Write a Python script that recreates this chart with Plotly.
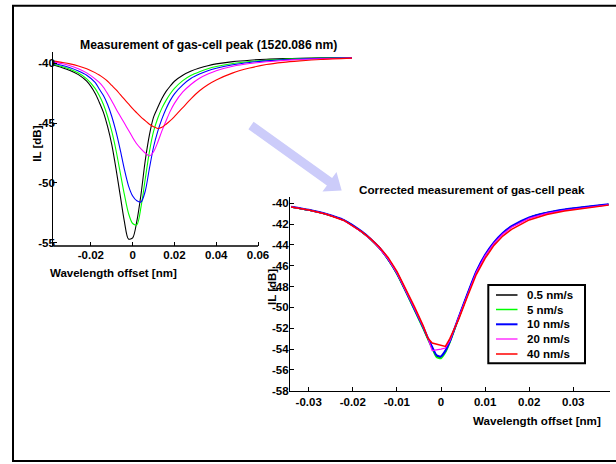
import plotly.graph_objects as go

FONT = "Liberation Sans, Arial, sans-serif"

SERIES = ["0.5 nm/s", "5 nm/s", "10 nm/s", "20 nm/s", "40 nm/s"]
COLORS = ["#000000", "#00ff00", "#0000ff", "#ff00ff", "#ff0000"]

# ---- raw measurement (upper-left panel) ----
X_RAW = [-0.038, -0.034, -0.030, -0.026, -0.022, -0.018, -0.016, -0.014, -0.012, -0.010,
         -0.008, -0.006, -0.004, -0.002, 0.000, 0.002, 0.004, 0.006, 0.008, 0.010,
         0.012, 0.014, 0.016, 0.018, 0.020, 0.024, 0.028, 0.032, 0.036, 0.040,
         0.048, 0.056, 0.064, 0.072, 0.080, 0.090, 0.105]
RAW_05 = [-40.14, -40.35, -40.6, -40.95, -41.5, -42.5, -43.25, -44.1, -45.3, -46.8,
          -48.8, -51.0, -53.2, -54.7, -54.6, -53.2, -50.95, -48.15, -46.0, -44.5,
          -43.7, -42.95, -42.35, -41.9, -41.5, -41.0, -40.65, -40.4, -40.2, -40.05,
          -39.86, -39.74, -39.66, -39.61, -39.58, -39.55, -39.53]
RAW_5 = [-40.08, -40.27, -40.5, -40.82, -41.3, -42.1, -42.7, -43.45, -44.45, -45.7,
         -47.25, -49.1, -50.95, -52.55, -53.4, -53.5, -52.0, -49.7, -47.4, -45.7,
         -44.6, -43.75, -43.1, -42.55, -42.1, -41.45, -41.0, -40.7, -40.45, -40.27,
         -40.02, -39.85, -39.74, -39.66, -39.61, -39.57, -39.54]
RAW_10 = [-40.0, -40.17, -40.38, -40.65, -41.0, -41.6, -42.15, -42.7, -43.45, -44.45,
          -45.7, -47.2, -48.85, -50.25, -51.1, -51.5, -51.6, -50.7, -48.8, -47.0,
          -45.7, -44.65, -43.8, -43.1, -42.55, -41.8, -41.25, -40.9, -40.62, -40.42,
          -40.12, -39.93, -39.8, -39.7, -39.64, -39.59, -39.55]
RAW_20 = [-39.9, -40.02, -40.2, -40.45, -40.8, -41.3, -41.6, -42.0, -42.55, -43.15,
          -43.8, -44.4, -45.0, -45.6, -46.2, -46.75, -47.15, -47.5, -47.75, -47.4,
          -46.6, -45.65, -44.8, -44.0, -43.35, -42.4, -41.75, -41.25, -40.9, -40.62,
          -40.25, -40.02, -39.87, -39.76, -39.68, -39.62, -39.57]
RAW_40 = [-39.8, -39.92, -40.05, -40.22, -40.45, -40.78, -40.98, -41.22, -41.5, -41.85,
          -42.2, -42.6, -43.0, -43.4, -43.8, -44.15, -44.5, -44.8, -45.1, -45.3,
          -45.45, -45.35, -45.1, -44.8, -44.45, -43.7, -42.95, -42.3, -41.8, -41.4,
          -40.8, -40.4, -40.1, -39.92, -39.8, -39.68, -39.57]

# ---- corrected measurement (lower-right panel) ----
X_COR = [-0.034, -0.030, -0.026, -0.022, -0.018, -0.016, -0.014, -0.012, -0.010, -0.008,
         -0.006, -0.004, -0.003, -0.002, -0.001, 0.000, 0.001, 0.002, 0.004, 0.006,
         0.008, 0.010, 0.012, 0.014, 0.016, 0.020, 0.024, 0.028, 0.032, 0.038]
COR_05 = [-40.35, -40.65, -41.05, -41.65, -42.75, -43.45, -44.3, -45.4, -46.75, -48.45,
          -50.2, -52.0, -52.95, -53.85, -54.7, -54.75, -54.2, -53.3, -51.0, -48.75,
          -46.6, -45.0, -43.8, -42.9, -42.25, -41.4, -40.92, -40.62, -40.4, -40.12]
COR_5 = [-40.35, -40.65, -41.05, -41.65, -42.75, -43.45, -44.3, -45.4, -46.8, -48.5,
         -50.3, -52.1, -53.05, -53.95, -54.8, -54.9, -54.35, -53.4, -51.05, -48.8,
         -46.65, -45.05, -43.85, -42.9, -42.25, -41.4, -40.92, -40.62, -40.4, -40.12]
COR_10 = [-40.33, -40.63, -41.03, -41.62, -42.7, -43.4, -44.25, -45.35, -46.7, -48.4,
          -50.15, -51.95, -52.9, -53.8, -54.6, -54.7, -54.15, -53.25, -50.95, -48.7,
          -46.55, -44.95, -43.75, -42.85, -42.2, -41.35, -40.9, -40.6, -40.38, -40.1]
COR_20 = [-40.35, -40.65, -41.05, -41.65, -42.75, -43.45, -44.3, -45.35, -46.7, -48.35,
          -50.1, -51.9, -52.9, -54.15, -54.1, -54.0, -53.9, -53.2, -51.0, -48.8,
          -46.65, -45.05, -43.85, -42.95, -42.3, -41.45, -40.97, -40.67, -40.45, -40.15]
COR_40 = [-40.35, -40.65, -41.05, -41.65, -42.72, -43.4, -44.2, -45.2, -46.55, -48.2,
          -49.95, -51.8, -52.95, -53.42, -53.53, -53.64, -53.75, -53.0, -51.15, -48.95,
          -46.85, -45.3, -44.05, -43.15, -42.5, -41.6, -41.08, -40.75, -40.5, -40.18]

RAW = [RAW_05, RAW_5, RAW_10, RAW_20, RAW_40]
COR = [COR_05, COR_5, COR_10, COR_20, COR_40]
COR_WIDTHS = [1.5, 1.5, 2.0, 1.2, 1.5]
COR_SHAPES = ["spline", "spline", "spline", "linear", "linear"]

RAW_XTICKS = [-0.02, 0, 0.02, 0.04, 0.06]
RAW_XTEXT = ["-0.02", "0", "0.02", "0.04", "0.06"]
RAW_YTICKS = [-40, -45, -50, -55]
RAW_YTEXT = ["-40", "-45", "-50", "-55"]
COR_XTICKS = [-0.03, -0.02, -0.01, 0, 0.01, 0.02, 0.03]
COR_XTEXT = ["-0.03", "-0.02", "-0.01", "0", "0.01", "0.02", "0.03"]
COR_YTICKS = [-58, -56, -54, -52, -50, -48, -46, -44, -42, -40]
COR_YTEXT = ["-58", "-56", "-54", "-52", "-50", "-48", "-46", "-44", "-42", "-40"]

W, H = 616, 464


def px(x):
    return x / W


def py(y):
    return 1 - y / H


fig = go.Figure()

for name, color, ys in zip(SERIES, COLORS, RAW):
    fig.add_trace(go.Scatter(
        x=X_RAW, y=ys, mode="lines", name=name, showlegend=False,
        line=dict(color=color, width=1.1, shape="spline", smoothing=0.8),
        xaxis="x", yaxis="y", hoverinfo="skip"))

for name, color, ys, wd, shp in zip(SERIES, COLORS, COR, COR_WIDTHS, COR_SHAPES):
    fig.add_trace(go.Scatter(
        x=X_COR, y=ys, mode="lines", name=name, showlegend=False,
        line=dict(color=color, width=wd, shape=shp, smoothing=0.6),
        xaxis="x2", yaxis="y2", hoverinfo="skip"))

tickfont = dict(family=FONT, size=11.5, color="black", weight="bold")
common = dict(showgrid=False, zeroline=False, ticks="inside", ticklen=4, tickwidth=1.2,
              tickcolor="black", tickfont=tickfont, linecolor="black", linewidth=1.3)

RAW_XRANGE = [-0.038, 0.105]
RAW_YRANGE = [-55.28, -39.03]

fig.update_layout(
    width=W, height=H, autosize=False,
    margin=dict(l=0, r=0, t=0, b=0, pad=0),
    paper_bgcolor="white", plot_bgcolor="rgba(0,0,0,0)",
    template="none",
    font=dict(family=FONT, size=11.5, color="black"),
    showlegend=False,
    xaxis=dict(domain=[px(53.3), px(352)], range=RAW_XRANGE, anchor="y",
               tickvals=RAW_XTICKS, ticktext=RAW_XTEXT, showline=False, **common),
    yaxis=dict(domain=[py(246), py(51.7)], range=RAW_YRANGE, anchor="x",
               tickvals=RAW_YTICKS, ticktext=RAW_YTEXT, showline=True,
               ticklabelstandoff=-5, **common),
    xaxis2=dict(domain=[px(290), px(610)], range=[-0.03424, 0.03832], anchor="y2",
                tickvals=COR_XTICKS, ticktext=COR_XTEXT, showline=True, **common),
    yaxis2=dict(domain=[py(390.7), py(196.7)], range=[-58, -39.37], anchor="x2",
                tickvals=COR_YTICKS, ticktext=COR_YTEXT, showline=True,
                ticklabelstandoff=-2, **common),
)

# arrow polygon (pixel coordinates -> paper)
arrow_px = [(253.6, 121.8), (332.1, 178.0), (336.5, 172.0), (341.7, 190.5),
            (322.5, 191.4), (326.9, 185.4), (248.4, 129.2)]
path = "M " + " L ".join(f"{px(a):.5f},{py(b):.5f}" for a, b in arrow_px) + " Z"

shapes = [
    dict(type="rect", xref="paper", yref="paper", x0=px(13), x1=1.02, y0=py(461), y1=py(5.8),
         line=dict(color="black", width=2), fillcolor="rgba(0,0,0,0)", layer="above"),
    dict(type="line", xref="x", yref="y domain", x0=RAW_XRANGE[0], x1=0.06, y0=0, y1=0,
         line=dict(color="black", width=1.3)),
    dict(type="path", xref="paper", yref="paper", path=path,
         fillcolor="rgb(204,204,250)", line=dict(width=0), layer="below"),
]

# legend box for the corrected panel
LEG_X0, LEG_X1, LEG_Y0, LEG_Y1 = 488.3, 585, 285, 363.3
LEG_ROWS = [295, 309.5, 324.3, 339, 354]
shapes.append(dict(type="rect", xref="paper", yref="paper",
                   x0=px(LEG_X0), x1=px(LEG_X1), y0=py(LEG_Y1), y1=py(LEG_Y0),
                   line=dict(color="black", width=2), fillcolor="white", layer="above"))
for color, wd, yy in zip(COLORS, COR_WIDTHS, LEG_ROWS):
    shapes.append(dict(type="line", xref="paper", yref="paper",
                       x0=px(496), x1=px(517.5), y0=py(yy), y1=py(yy),
                       line=dict(color=color, width=wd), layer="above"))
fig.update_layout(shapes=shapes)


def bold(size=11.5):
    return dict(family=FONT, size=size, color="black", weight="bold")


annos = [
    ("Measurement of gas-cell peak (1520.086 nm)", 208, 45, 0, 12.2),
    ("Corrected measurement of gas-cell peak", 472, 189, 0, 11.7),
    ("Wavelength offset [nm]", 113.3, 273, 0, 11.5),
    ("IL [dB]", 36.7, 144, -90, 11.5),
    ("Wavelength offset [nm]", 536.5, 420, 0, 11.6),
    ("IL [dB]", 271.5, 287.5, -90, 11.5),
]
annotations = [
    dict(text=t, x=px(x), y=py(y), xref="paper", yref="paper", showarrow=False,
         xanchor="center", yanchor="middle", textangle=a, font=bold(s))
    for t, x, y, a, s in annos
]
for name, yy in zip(SERIES, LEG_ROWS):
    annotations.append(dict(text=name, x=px(525), y=py(yy), xref="paper", yref="paper",
                            showarrow=False, xanchor="left", yanchor="middle", font=bold()))
fig.update_layout(annotations=annotations)

fig.write_html(
    "out.html",
    config={"displayModeBar": False},
    post_script="document.body.style.margin='0';document.body.style.overflow='hidden';",
)
